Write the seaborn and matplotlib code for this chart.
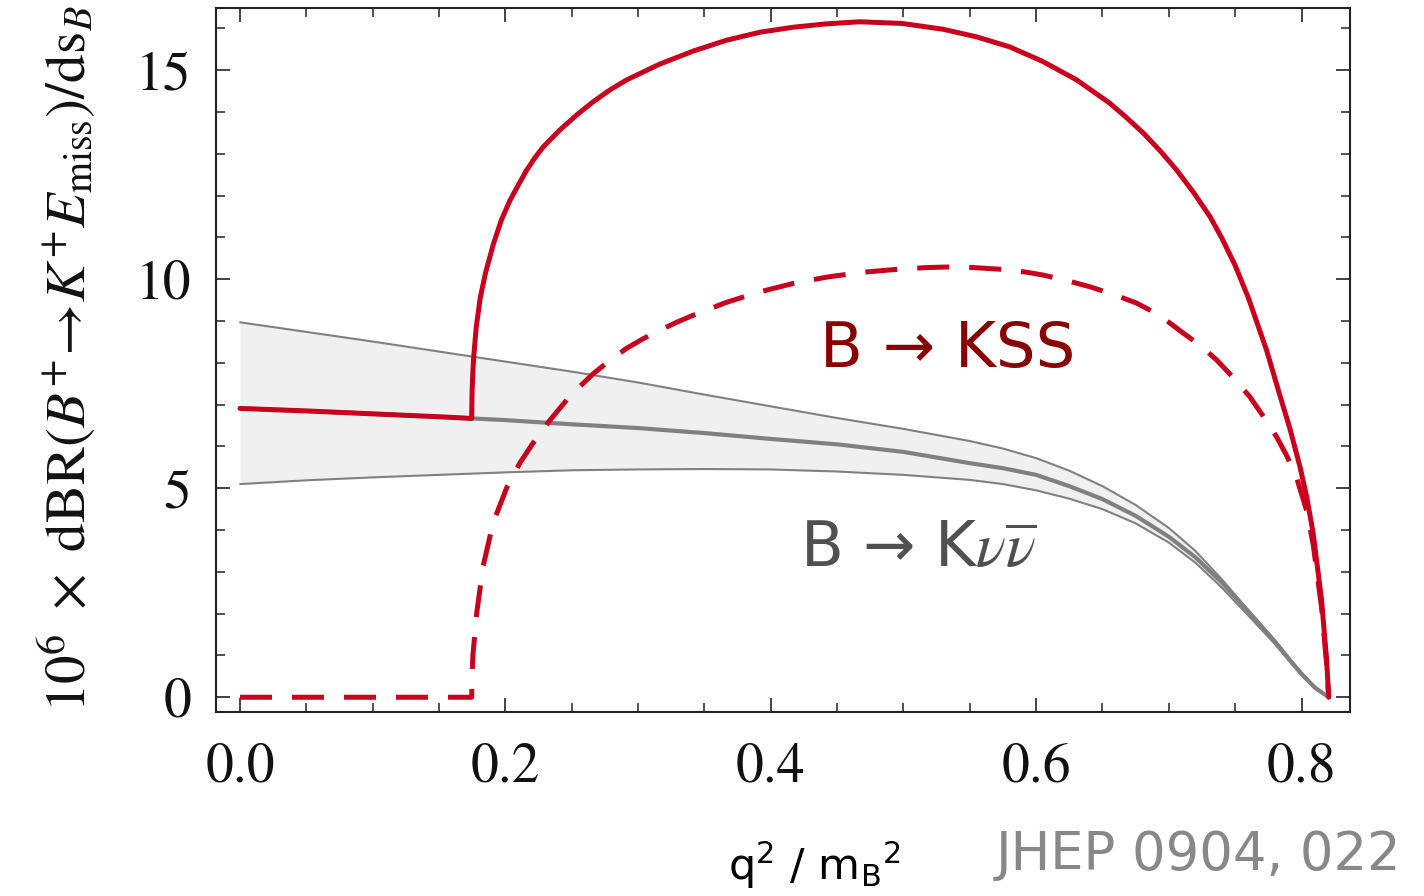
import matplotlib
matplotlib.use("Agg")
import matplotlib.pyplot as plt
from matplotlib.ticker import MultipleLocator
import seaborn as sns
import pandas as pd

# q^2/m_B^2 grid for the Standard Model B -> K nu nubar band
sm_x = [0.0, 0.05, 0.1, 0.15, 0.2, 0.25, 0.3, 0.35, 0.4, 0.45, 0.5, 0.55, 0.575,
        0.6, 0.625, 0.65, 0.675, 0.7, 0.72, 0.74, 0.76, 0.78, 0.79, 0.8, 0.81, 0.8205]
sm_upper = [8.97, 8.74, 8.51, 8.27, 8.03, 7.79, 7.53, 7.24, 6.96, 6.68, 6.42, 6.13, 5.95,
            5.72, 5.42, 5.05, 4.60, 4.05, 3.50, 2.82, 2.08, 1.36, 0.96, 0.58, 0.26, 0.0]
sm_central = [6.91, 6.85, 6.78, 6.71, 6.63, 6.53, 6.44, 6.32, 6.18, 6.05, 5.87, 5.60, 5.48,
              5.32, 5.05, 4.74, 4.34, 3.84, 3.35, 2.74, 2.05, 1.33, 0.94, 0.56, 0.23, 0.0]
sm_lower = [5.10, 5.19, 5.26, 5.32, 5.38, 5.43, 5.45, 5.46, 5.45, 5.40, 5.32, 5.20, 5.10,
            4.95, 4.75, 4.50, 4.16, 3.70, 3.22, 2.62, 1.95, 1.27, 0.89, 0.52, 0.21, 0.0]

# Total rate including the scalar pair channel B -> K S S
tot_x = [0.0, 0.05, 0.1, 0.15, 0.1746, 0.1748, 0.1752, 0.176, 0.178, 0.181, 0.185,
         0.191, 0.197, 0.2035, 0.21, 0.216, 0.2223, 0.2286, 0.241, 0.2537, 0.2663,
         0.2788, 0.2914, 0.3165, 0.3416, 0.3668, 0.3919, 0.417, 0.442, 0.467, 0.499,
         0.530, 0.555, 0.580, 0.605, 0.6305, 0.6556, 0.668, 0.681, 0.6935, 0.706,
         0.7185, 0.731, 0.74, 0.75, 0.76, 0.7737, 0.7837, 0.7913, 0.7988, 0.804,
         0.8088, 0.8151, 0.8189, 0.8205]
tot_y = [6.91, 6.85, 6.78, 6.71, 6.67, 7.20, 7.60, 8.10, 8.85, 9.55, 10.15,
         10.85, 11.42, 11.89, 12.27, 12.61, 12.91, 13.17, 13.57, 13.93, 14.25,
         14.53, 14.77, 15.15, 15.46, 15.72, 15.91, 16.03, 16.11, 16.16, 16.12,
         15.98, 15.80, 15.56, 15.21, 14.77, 14.21, 13.87, 13.49, 13.07, 12.61,
         12.08, 11.50, 10.98, 10.33, 9.55, 8.30, 7.22, 6.42, 5.52, 4.78,
         3.92, 2.33, 0.89, 0.0]

# Scalar pair contribution alone
kss_x = [0.0, 0.1746, 0.1748, 0.1755, 0.1784, 0.1831, 0.1907, 0.2012, 0.211, 0.2208,
         0.2336, 0.2464, 0.2563, 0.2662, 0.2788, 0.2914, 0.304, 0.3165, 0.329, 0.3416,
         0.3668, 0.3919, 0.417, 0.442, 0.467, 0.4923, 0.5175, 0.5426, 0.5727, 0.5925,
         0.6054, 0.623, 0.6405, 0.658, 0.6757, 0.693, 0.7109, 0.7235, 0.736, 0.7485,
         0.761, 0.771, 0.7812, 0.789, 0.7963, 0.804, 0.8088, 0.8151, 0.8189, 0.8205]
kss_y = [0.0, 0.0, 0.45, 1.0, 2.02, 3.12, 4.17, 5.03, 5.61, 6.08,
         6.63, 7.12, 7.44, 7.74, 8.06, 8.35, 8.58, 8.78, 8.97, 9.14,
         9.45, 9.70, 9.90, 10.05, 10.16, 10.23, 10.28, 10.30, 10.24, 10.17,
         10.10, 9.97, 9.82, 9.64, 9.43, 9.14, 8.71, 8.42, 8.07, 7.65,
         7.19, 6.73, 6.23, 5.77, 5.25, 4.45, 3.65, 2.15, 0.80, 0.0]

x_ticks = [0.0, 0.2, 0.4, 0.6, 0.8]
x_tick_labels = ["0.0", "0.2", "0.4", "0.6", "0.8"]
y_ticks = [0, 5, 10, 15]
y_tick_labels = ["0", "5", "10", "15"]

sns.set_theme(style="ticks")
plt.rcParams["font.family"] = ["DejaVu Sans"]
plt.rcParams["mathtext.fontset"] = "dejavusans"

RED = "#C8001E"
DARK_RED = "#880000"
GREY = "#808080"

fig = plt.figure(figsize=(14.24, 8.96), dpi=100)
ax = fig.add_axes([0.1517, 0.2054, 0.7963, 0.7857])

sm = pd.DataFrame({"x": sm_x, "upper": sm_upper, "central": sm_central, "lower": sm_lower})
tot = pd.DataFrame({"x": tot_x, "y": tot_y})
kss = pd.DataFrame({"x": kss_x, "y": kss_y})

# Standard Model uncertainty band
ax.fill_between(sm["x"], sm["lower"], sm["upper"], color="#F0F0F0", lw=0, zorder=1)
sns.lineplot(data=sm, x="x", y="upper", ax=ax, color=GREY, lw=1.5, estimator=None, zorder=2)
sns.lineplot(data=sm, x="x", y="lower", ax=ax, color=GREY, lw=1.5, estimator=None, zorder=2)
sns.lineplot(data=sm, x="x", y="central", ax=ax, color=GREY, lw=3.0, estimator=None, zorder=2)
for ln in ax.lines:
    ln.set_solid_joinstyle("round")

# Scalar pair curves
sns.lineplot(data=kss, x="x", y="y", ax=ax, color=RED, lw=3.6, estimator=None, zorder=3)
ax.lines[-1].set_linestyle((0, (6.4, 4.0)))
ax.lines[-1].set_dash_capstyle("butt")
ax.lines[-1].set_dash_joinstyle("round")
sns.lineplot(data=tot, x="x", y="y", ax=ax, color=RED, lw=3.6, estimator=None, zorder=4)
ax.lines[-1].set_solid_joinstyle("round")

ax.set_xlim(-0.0181, 0.8365)
ax.set_ylim(-0.352, 16.49)

ax.set_xticks(x_ticks)
ax.set_xticklabels(x_tick_labels)
ax.set_yticks(y_ticks)
ax.set_yticklabels(y_tick_labels)
ax.xaxis.set_minor_locator(MultipleLocator(0.05))
ax.yaxis.set_minor_locator(MultipleLocator(1))

for side in ["left", "right", "top", "bottom"]:
    ax.spines[side].set_visible(True)
    ax.spines[side].set_linewidth(1.5)
    ax.spines[side].set_color("#222222")

ax.tick_params(which="both", direction="in", top=True, right=True, color="#222222")
ax.tick_params(which="major", length=10, width=1.2)
ax.tick_params(which="minor", length=6.5, width=1.1)
ax.tick_params(axis="x", which="major", pad=22)
ax.tick_params(axis="y", which="major", pad=18)
for lab in ax.get_xticklabels() + ax.get_yticklabels():
    lab.set_family("STIXGeneral")
    lab.set_fontsize(40)
    lab.set_color("#111111")

ax.set_xlabel("")
ax.set_ylabel("")

ax.text(0.437, 7.90, "B \u2192 KSS", color=DARK_RED, fontsize=45,
        ha="left", va="baseline", zorder=5)
ax.text(0.422, 3.12, "B \u2192 K" + r"$\nu\overline{\nu}$", color="#505050", fontsize=45,
        ha="left", va="baseline", math_fontfamily="stix", zorder=5)

fig.text(0.047, 0.60,
         r"$10^{6}\ \times\ \mathrm{dBR}(B^{+}\!\rightarrow\! K^{+}E_{\mathrm{miss}})/\mathrm{ds}_{B}$",
         rotation=90, ha="center", va="center", fontsize=41, math_fontfamily="stix",
         color="#111111")
fig.text(0.572, 0.018, r"q$^{2}$ / m$_{\mathrm{B}}$$^{2}$", ha="center", va="baseline",
         fontsize=31, color="black")
fig.text(0.699, 0.029, "JHEP 0904, 022", ha="left", va="baseline", fontsize=38,
         color="#888888")

fig.savefig("out.png", dpi=100)
